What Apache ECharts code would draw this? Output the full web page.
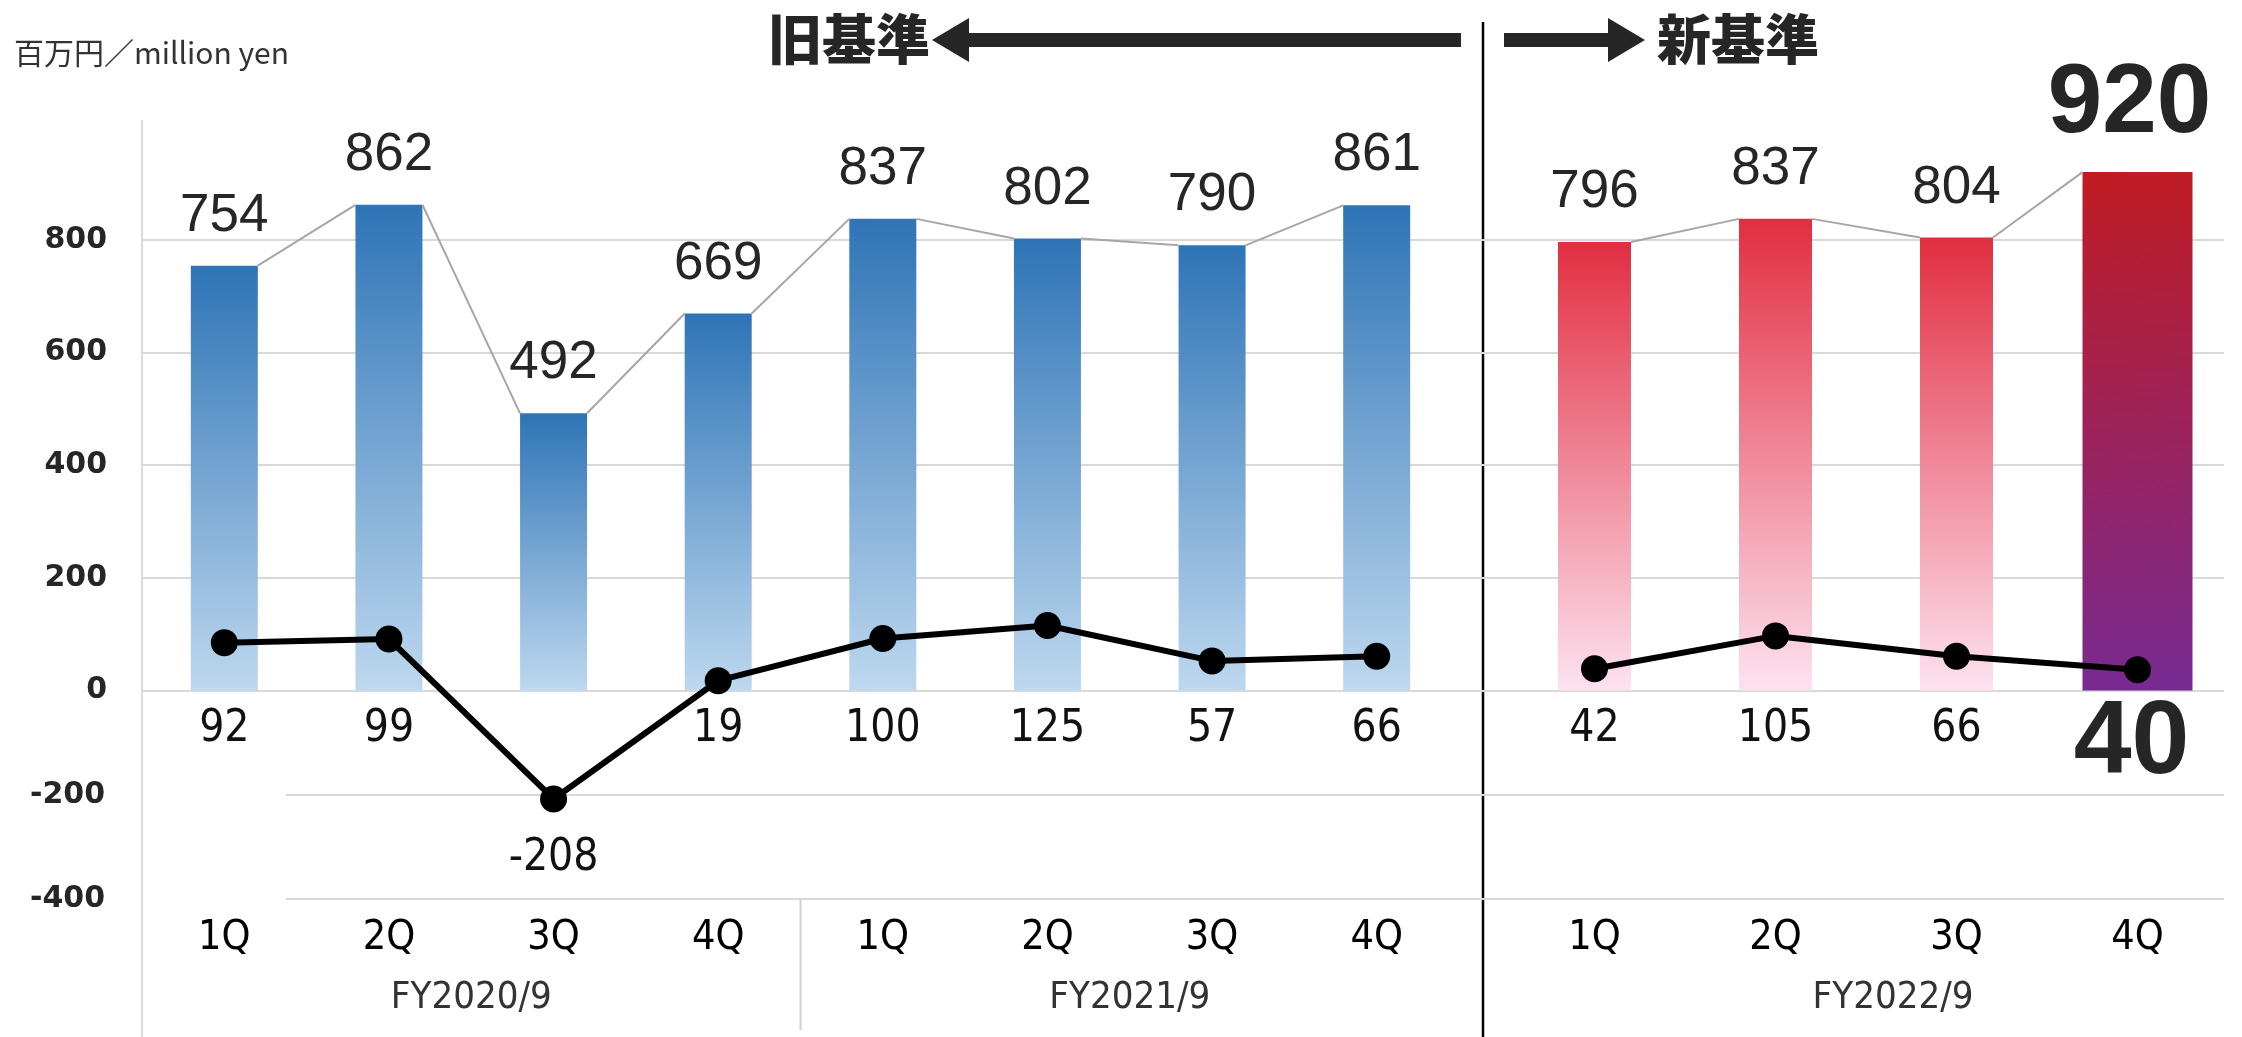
<!DOCTYPE html>
<html><head><meta charset="utf-8">
<script src="https://cdn.jsdelivr.net/npm/echarts@6/dist/echarts.min.js"></script>
<style>html,body{margin:0;padding:0;background:#fff}#c{width:2242px;height:1037px}</style>
</head><body><div id="c"></div>
<script>
// ---------- data ----------
const quarters = ['1Q', '2Q', '3Q', '4Q'];
const groupsOld = ['FY2020/9', 'FY2021/9'];
const groupsNew = ['FY2022/9'];
const salesOld = [754, 862, 492, 669, 837, 802, 790, 861];   // 旧基準
const salesNew = [796, 837, 804, 920];                        // 新基準
const profitOld = [92, 99, -208, 19, 100, 125, 57, 66];
const profitNew = [42, 105, 66, 40];
const unitLabel = '百万円／million yen';
const oldLabel = '旧基準';
const newLabel = '新基準';

// ---------- layout ----------
const AX = 142, PR = 2224, TOP = 127, ZERO = 690.6, BOT = 899;
const LX = 142, LW = 1317;      // left segment
const RX = 1504, RW = 724;      // right segment
const BW_OLD = 67, BW_NEW = 73, BW_LAST = 110;
const LINE_MAX = -400 + (BOT - TOP) / ((BOT - ZERO) / 400);
const LABEL_Y = 730;

const catOld = quarters.concat(quarters);
const chart = echarts.init(document.getElementById('c'), null, {renderer: 'canvas'});

const blue = new echarts.graphic.LinearGradient(0, 0, 0, 1, [
  {offset: 0, color: '#2E74B6'}, {offset: 1, color: '#BED8EF'}]);
const red = new echarts.graphic.LinearGradient(0, 0, 0, 1, [
  {offset: 0, color: '#E22E41'}, {offset: 1, color: '#FDE2F0'}]);
const redPurple = new echarts.graphic.LinearGradient(0, 0, 0.45, 1, [
  {offset: 0, color: '#C11C22'}, {offset: 1, color: '#772A92'}]);

const numFont = 'Liberation Sans';
const condFont = 'DejaVu Sans Condensed';
const heavyFont = '"Liberation Sans", Arial, sans-serif';
const hidden = {show: false};

function connector(widthOf) {
  return function (params, api) {
    const i = api.value(0), a = api.value(1), b = api.value(2);
    const p1 = api.coord([i, a]), p2 = api.coord([i + 1, b]);
    return {type: 'line', shape: {x1: p1[0] + widthOf(i) / 2, y1: p1[1], x2: p2[0] - widthOf(i + 1) / 2, y2: p2[1]},
      style: {stroke: '#A6A6A6', lineWidth: 2}};
  };
}
const pairs = arr => arr.slice(0, -1).map((v, i) => [i, v, arr[i + 1]]);

const qLabel = {show: true, fontSize: 41, fontFamily: condFont, color: '#000', margin: 19};
const barLabel = {show: true, position: 'top', distance: 23, fontSize: 53, fontFamily: numFont, color: '#262626'};
const lineLabel = {show: true, position: 'inside', fontSize: 44, fontFamily: condFont, color: '#111'};
const fyLabel = {inside: true, margin: 80, fontSize: 38, fontFamily: condFont, color: '#333'};
const tickLabel = {fontSize: 30, fontWeight: 'bold', fontFamily: 'DejaVu Sans', color: '#262626'};

const option = {
  animation: false,
  backgroundColor: '#fff',
  grid: [
    {left: AX, top: TOP, width: PR - AX, height: ZERO - TOP},          // 0 positive gridlines
    {left: 286, top: ZERO, width: PR - 286, height: BOT - ZERO},       // 1 negative gridlines
    {left: LX, top: TOP, width: LW, height: ZERO - TOP},                // 2 bars old
    {left: RX, top: TOP, width: RW, height: ZERO - TOP},                // 3 bars new
    {left: LX, top: TOP, width: LW, height: BOT - TOP},                 // 4 line old
    {left: RX, top: TOP, width: RW, height: BOT - TOP},                 // 5 line new
    {left: LX, top: BOT, width: LW, height: 131},                       // 6 groups old
    {left: 1556, top: BOT, width: 674, height: 131},                    // 7 group new
    {left: AX, top: 121, width: 10, height: 916},                       // 8 y axis line
    {left: RX, top: TOP, width: RW, height: ZERO - TOP}                 // 9 last bar
  ],
  xAxis: [
    {gridIndex: 0, type: 'value', show: false},
    {gridIndex: 1, type: 'value', show: false},
    {gridIndex: 2, type: 'category', data: catOld, show: false},
    {gridIndex: 3, type: 'category', data: quarters, show: false},
    {gridIndex: 4, type: 'category', data: catOld, axisLine: hidden, axisTick: hidden, axisLabel: qLabel},
    {gridIndex: 5, type: 'category', data: quarters, axisLine: hidden, axisTick: hidden, axisLabel: qLabel},
    {gridIndex: 6, type: 'category', data: groupsOld, position: 'top', axisLine: hidden, axisTick: hidden, axisLabel: fyLabel},
    {gridIndex: 7, type: 'category', data: groupsNew, position: 'top', axisLine: hidden, axisTick: hidden, axisLabel: fyLabel},
    {gridIndex: 8, type: 'value', show: false},
    {gridIndex: 9, type: 'category', data: quarters, show: false}
  ],
  yAxis: [
    {gridIndex: 0, type: 'value', min: 0, max: 1000, interval: 200, axisLine: hidden, axisTick: hidden,
      splitLine: {show: true, showMaxLine: false, lineStyle: {color: '#D9D9D9', width: 2}},
      axisLabel: Object.assign({showMaxLabel: false, margin: 35}, tickLabel)},
    {gridIndex: 1, type: 'value', min: -400, max: 0, interval: 200, axisLine: hidden, axisTick: hidden,
      splitLine: {show: true, showMaxLine: false, lineStyle: {color: '#D9D9D9', width: 2}},
      axisLabel: Object.assign({showMaxLabel: false, margin: 181}, tickLabel)},
    {gridIndex: 2, type: 'value', min: 0, max: 1000, show: false},
    {gridIndex: 3, type: 'value', min: 0, max: 1000, show: false},
    {gridIndex: 4, type: 'value', min: -400, max: LINE_MAX, show: false},
    {gridIndex: 5, type: 'value', min: -400, max: LINE_MAX, show: false},
    {gridIndex: 6, type: 'value', show: false},
    {gridIndex: 7, type: 'value', show: false},
    {gridIndex: 8, type: 'value', axisLine: {show: true, lineStyle: {color: '#D9D9D9', width: 2}},
      axisTick: hidden, axisLabel: hidden, splitLine: hidden},
    {gridIndex: 9, type: 'value', min: 0, max: 1000, show: false}
  ],
  series: [
    {id: 'barOld', type: 'bar', xAxisIndex: 2, yAxisIndex: 2, data: salesOld, barWidth: BW_OLD,
      itemStyle: {color: blue}, label: barLabel},
    {id: 'barNew', type: 'bar', xAxisIndex: 3, yAxisIndex: 3,
      data: salesNew.map((v, i) => i < salesNew.length - 1 ? v : '-'), barWidth: BW_NEW,
      itemStyle: {color: red}, label: barLabel},
    {id: 'barLast', type: 'bar', xAxisIndex: 9, yAxisIndex: 9,
      data: salesNew.map((v, i) => i === salesNew.length - 1 ? v : '-'), barWidth: BW_LAST,
      itemStyle: {color: redPurple},
      label: {show: true, position: 'top', distance: 18, offset: [-8, 0], fontSize: 98, fontWeight: 'bold', fontFamily: heavyFont, color: '#262626'}},
    {id: 'connOld', type: 'custom', xAxisIndex: 2, yAxisIndex: 2, data: pairs(salesOld),
      renderItem: connector(() => BW_OLD), z: 3},
    {id: 'connNew', type: 'custom', xAxisIndex: 3, yAxisIndex: 3, data: pairs(salesNew),
      renderItem: connector((i) => i === salesNew.length - 1 ? BW_LAST : BW_NEW), z: 3},
    {id: 'lineOld', type: 'line', xAxisIndex: 4, yAxisIndex: 4, data: profitOld, z: 5,
      symbol: 'circle', symbolSize: 27, lineStyle: {color: '#000', width: 6}, itemStyle: {color: '#000'},
      label: lineLabel},
    {id: 'lineNew', type: 'line', xAxisIndex: 5, yAxisIndex: 5, data: profitNew, z: 5,
      symbol: 'circle', symbolSize: 27, lineStyle: {color: '#000', width: 6}, itemStyle: {color: '#000'},
      label: lineLabel}
  ],
  graphic: {elements: [
    {type: 'text', left: 14, top: 38, style: {text: unitLabel, font: '30px "Noto Sans CJK JP"', fill: '#333'}},
    {type: 'text', left: 768, top: 12, style: {text: oldLabel, font: '900 54px "Noto Sans CJK JP"', fill: '#262626'}},
    {type: 'text', left: 1657, top: 12, style: {text: newLabel, font: '900 54px "Noto Sans CJK JP"', fill: '#262626'}},
    {type: 'polygon', shape: {points: [[932, 40], [969, 18], [969, 33], [1461, 33], [1461, 47], [969, 47], [969, 62]]},
      style: {fill: '#262626'}},
    {type: 'polygon', shape: {points: [[1645, 40], [1608, 18], [1608, 33], [1504, 33], [1504, 47], [1608, 47], [1608, 62]]},
      style: {fill: '#262626'}},
    {type: 'line', shape: {x1: 1483, y1: 22, x2: 1483, y2: 1037}, style: {stroke: '#000', lineWidth: 2.5}}
  ]}
};
chart.setOption(option);

// place the profit labels in a band under the zero line (as in the original)
function profitItems(arr, axisIdx, last) {
  return arr.map((v, i) => {
    const py = chart.convertToPixel({xAxisIndex: axisIdx, yAxisIndex: axisIdx}, [i, v])[1];
    const item = {value: v, label: {offset: [0, (v < 0 ? py + 60 : LABEL_Y) - py]}};
    if (last && i === arr.length - 1) {
      item.label = {offset: [-6, 744 - py], fontSize: 104, fontWeight: 'bold', fontFamily: heavyFont, color: '#262626'};
    }
    return item;
  });
}
// boundary between the two fiscal-year groups of the old segment
const half = quarters.length;
const xa = chart.convertToPixel({xAxisIndex: 4}, half - 1);
const xb = chart.convertToPixel({xAxisIndex: 4}, half);
const sepX = (xa + xb) / 2;
chart.setOption({
  series: [
    {id: 'lineOld', data: profitItems(profitOld, 4, false)},
    {id: 'lineNew', data: profitItems(profitNew, 5, true)}
  ],
  graphic: {elements: [
    {id: 'fySep', type: 'line', shape: {x1: sepX, y1: BOT, x2: sepX, y2: 1030}, style: {stroke: '#D0D0D0', lineWidth: 2}}
  ]}
});
</script>
</body></html>
